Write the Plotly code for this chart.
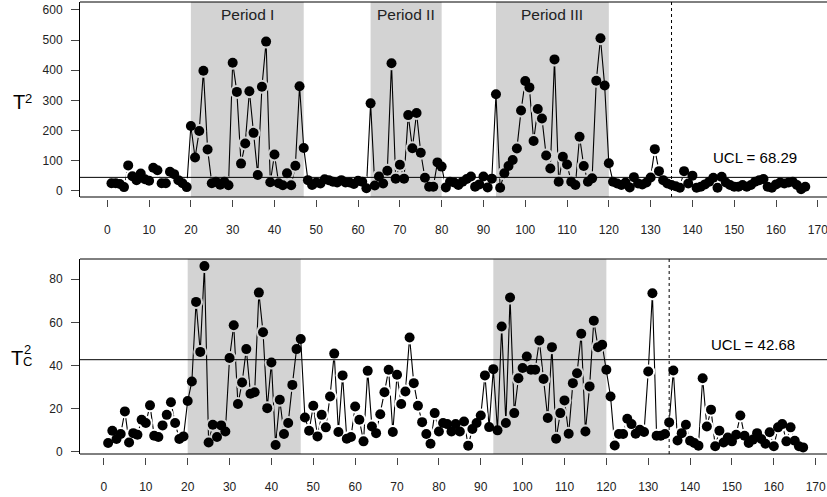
import plotly.graph_objects as go

obs = list(range(1, 168))

t2 = [25, 25, 22, 12, 84, 48, 35, 57, 38, 33,
      76, 68, 25, 25, 63, 55, 35, 25, 12, 215,
      110, 198, 398, 137, 25, 30, 20, 30, 18, 425,
      328, 90, 157, 330, 192, 52, 345, 495, 28, 120,
      25, 18, 58, 18, 83, 347, 142, 35, 19, 27,
      24, 38, 35, 30, 27, 35, 27, 27, 22, 33,
      30, 8, 290, 17, 47, 24, 66, 423, 40, 86,
      40, 251, 141, 258, 126, 43, 13, 13, 94, 80,
      11, 30, 27, 19, 30, 39, 47, 13, 21, 47,
      11, 40, 320, 10, 58, 82, 102, 140, 266, 364,
      343, 165, 271, 240, 117, 74, 436, 30, 113, 87,
      30, 19, 179, 82, 30, 41, 365, 506, 349, 91,
      30, 24, 19, 27, 11, 45, 24, 21, 27, 44,
      138, 65, 35, 24, 19, 15, 10, 65, 24, 50,
      10, 13, 21, 30, 43, 10, 46, 27, 19, 13,
      13, 19, 13, 19, 30, 35, 39, 13, 10, 21,
      27, 24, 27, 30, 19, 5, 13]

tc2 = [4.0, 9.7, 5.9, 8.2, 18.7, 4.3, 8.6, 7.9, 14.8, 13.3,
       21.5, 7.4, 6.8, 12.2, 17.1, 22.9, 13.3, 5.9, 7.1, 23.5,
       32.6, 69.5, 46.3, 86.1, 4.3, 12.5, 6.8, 12.2, 9.4, 43.5,
       58.7, 22.1, 32.1, 47.6, 26.9, 27.6, 73.8, 55.4, 20.2, 41.4,
       3.1, 24.1, 8.2, 13.3, 31.0, 47.6, 52.3, 15.9, 9.7, 21.3,
       7.1, 17.1, 11.3, 25.6, 45.5, 9.1, 35.4, 6.0, 6.8, 21.0,
       14.8, 4.8, 37.5, 11.7, 8.6, 17.4, 27.6, 38.0, 9.1, 35.7,
       22.1, 27.9, 53.0, 31.8, 21.3, 13.7, 8.2, 3.7, 17.9, 9.4,
       13.3, 12.8, 9.4, 12.8, 9.4, 14.0, 2.8, 10.5, 13.3, 16.8,
       35.4, 11.4, 38.3, 9.9, 58.1, 13.3, 71.5, 17.9, 34.1, 38.8,
       44.2, 38.0, 38.0, 51.6, 33.7, 15.6, 48.5, 6.0, 17.9, 23.8,
       8.3, 31.8, 36.4, 54.7, 9.4, 30.3, 60.8, 48.5, 49.6, 38.0,
       25.6, 2.9, 8.2, 8.2, 15.3, 12.8, 8.3, 10.2, 9.1, 37.2,
       73.5, 7.4, 7.4, 8.2, 13.6, 37.7, 5.2, 8.6, 12.5, 5.1,
       4.0, 2.8, 34.1, 11.7, 19.5, 2.5, 9.7, 4.3, 6.6, 4.8,
       7.9, 16.8, 7.4, 4.0, 5.6, 8.6, 5.9, 3.7, 9.0, 2.5,
       11.3, 12.8, 4.8, 11.3, 5.1, 2.5, 2.0]

periods_top = [("Period I", 20, 47), ("Period II", 63, 80), ("Period III", 93, 120)]
periods_bottom = [(20, 47), (93, 120)]
change_point = 135
ucl_top_line = 44.3
ucl_top_text = "UCL = 68.29"
ucl_bottom = 42.68
ucl_bottom_text = "UCL = 42.68"
x_ticks = list(range(0, 171, 10))
y_ticks_top = list(range(0, 601, 100))
y_ticks_bottom = list(range(0, 81, 20))

FONT = "Liberation Sans, Arial, Helvetica, sans-serif"
SHADE = "#D3D3D3"
W, H = 827, 497
ML, MR, MT, MB = 80, 0, 2, 37
PW = W - ML - MR
PH = H - MT - MB


def ppx(xp):
    return (xp - ML) / PW


def ppy(yp):
    return (H - MB - yp) / PH


def halo_colors(spans):
    cols = []
    for i in obs:
        near_edge = any(abs(i - a) <= 1 or abs(i - b) <= 1 for a, b in spans)
        if near_edge:
            cols.append("rgba(0,0,0,0)")
        elif any(a < i < b for a, b in spans):
            cols.append(SHADE)
        else:
            cols.append("white")
    return cols


def add_series(y, xa, ya, spans):
    fig.add_trace(go.Scatter(x=obs, y=y, mode="lines", xaxis=xa, yaxis=ya,
                             line=dict(color="black", width=1.1), showlegend=False,
                             hoverinfo="skip"))
    # background-coloured halo: small gap between line and point (R type="b")
    fig.add_trace(go.Scatter(x=obs, y=y, mode="markers", xaxis=xa, yaxis=ya,
                             marker=dict(color=halo_colors(spans), size=14, line=dict(width=0)),
                             showlegend=False, hoverinfo="skip"))
    fig.add_trace(go.Scatter(x=obs, y=y, mode="markers", xaxis=xa, yaxis=ya,
                             marker=dict(color="black", size=10, line=dict(width=0)),
                             showlegend=False, hoverinfo="skip"))


fig = go.Figure()
add_series(t2, "x", "y", [(a, b) for _, a, b in periods_top])
add_series(tc2, "x2", "y2", periods_bottom)

shapes = []
for name, a, b in periods_top:
    shapes.append(dict(type="rect", xref="x", yref="y domain", x0=a, x1=b, y0=0, y1=1,
                       fillcolor=SHADE, line=dict(width=0), layer="below"))
for a, b in periods_bottom:
    shapes.append(dict(type="rect", xref="x2", yref="y2 domain", x0=a, x1=b, y0=0, y1=1,
                       fillcolor=SHADE, line=dict(width=0), layer="below"))
for xr, yr in (("x", "y"), ("x2", "y2")):
    shapes.append(dict(type="line", xref=xr, yref=yr + " domain", x0=change_point, x1=change_point,
                       y0=0, y1=1, line=dict(color="black", width=1, dash="3px,3px")))
    for yy in (0, 1):
        shapes.append(dict(type="line", xref=xr + " domain", yref=yr + " domain", x0=0, x1=1,
                           y0=yy, y1=yy, line=dict(color="black", width=1)))
shapes.append(dict(type="line", xref="x domain", yref="y", x0=0, x1=1, y0=ucl_top_line,
                   y1=ucl_top_line, line=dict(color="black", width=1)))
shapes.append(dict(type="line", xref="x2 domain", yref="y2", x0=0, x1=1, y0=ucl_bottom,
                   y1=ucl_bottom, line=dict(color="black", width=1)))

annotations = []
for name, a, b in periods_top:
    annotations.append(dict(text=name, x=(a + b) / 2, y=1, xref="x", yref="y domain",
                            xanchor="center", yanchor="top", yshift=-2, showarrow=False,
                            font=dict(family=FONT, size=15.5, color="#222")))
annotations.append(dict(text=ucl_top_text, x=155, y=110, xref="x", yref="y", showarrow=False,
                        xanchor="center", yanchor="middle",
                        font=dict(family=FONT, size=15, color="black")))
annotations.append(dict(text=ucl_bottom_text, x=155, y=49.6, xref="x2", yref="y2", showarrow=False,
                        xanchor="center", yanchor="middle",
                        font=dict(family=FONT, size=15, color="black")))

title_parts = [("T", 18.7, 102.2, 20), ("2", 28.3, 98.0, 13),
               ("T", 17.3, 357.5, 20), ("2", 27.0, 349.3, 13), ("C", 28.0, 361.2, 13)]
for txt, xp, yp, sz in title_parts:
    annotations.append(dict(text=txt, x=ppx(xp), y=ppy(yp), xref="paper", yref="paper",
                            xanchor="center", yanchor="middle", showarrow=False,
                            font=dict(family=FONT, size=sz, color="black")))

tickfont = dict(family=FONT, size=12, color="#222")
xcommon = dict(tickmode="array", tickvals=x_ticks, ticks="outside", ticklen=7, tickwidth=1,
               tickcolor="#444", showline=False, showgrid=False, zeroline=False,
               tickfont=tickfont, anchor="free", ticklabelstandoff=12, automargin=False,
               ticklabeloverflow="allow")
ycommon = dict(tickmode="array", ticks="outside", ticklen=8, tickwidth=1, tickcolor="#444",
               showline=True, linecolor="black", linewidth=1, showgrid=False, zeroline=False,
               tickfont=tickfont, ticklabelstandoff=6, automargin=False)

fig.update_layout(
    width=W, height=H,
    margin=dict(l=ML, r=MR, t=MT, b=MB, autoexpand=False),
    paper_bgcolor="white", plot_bgcolor="white",
    font=dict(family=FONT),
    hovermode=False,
    xaxis=dict(range=[-6.53, 172.2], domain=[0, 1], position=ppy(199.3), **xcommon),
    yaxis=dict(range=[-20.9, 626.5], domain=[ppy(197), 1], tickvals=y_ticks_top, anchor="x",
               **ycommon),
    xaxis2=dict(range=[-5.72, 172.7], domain=[0, 1], position=ppy(456.7), **xcommon),
    yaxis2=dict(range=[-1.07, 89.4], domain=[ppy(454), ppy(259)], tickvals=y_ticks_bottom,
                anchor="x2", **ycommon),
    shapes=shapes,
    annotations=annotations,
)

fig.write_html("out.html", config={"displayModeBar": False},
               post_script="document.body.style.margin='0';document.body.style.overflow='hidden';")
